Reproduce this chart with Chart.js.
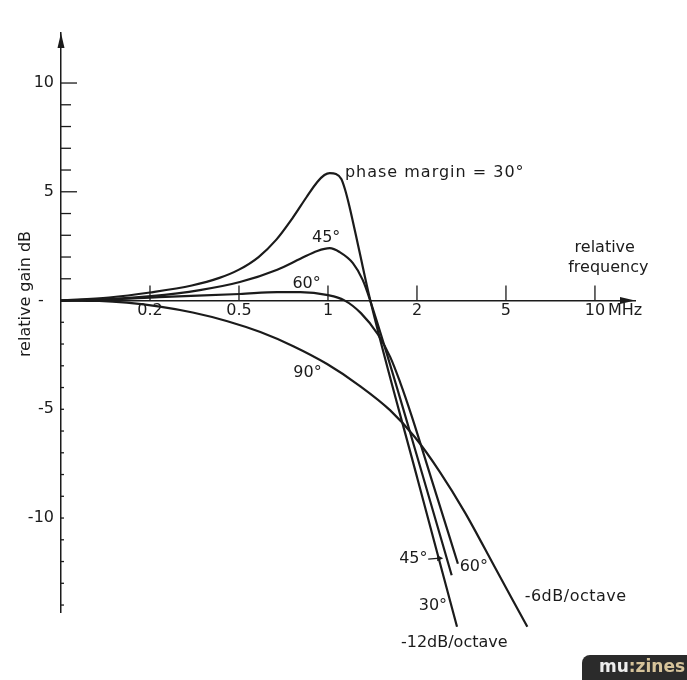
<!DOCTYPE html>
<html>
<head>
<meta charset="utf-8">
<script src="https://cdn.jsdelivr.net/npm/chart.js@4.4.1/dist/chart.umd.min.js"></script>
<style>
  body { margin: 0; background: #fff; }
  canvas { display: block; }
</style>
</head>
<body>
<canvas id="gainChart" width="687" height="680"></canvas>
<script>
// x values are positions on the frequency axis: the 0.1-0.2-0.5-1-2-5-10 steps are drawn equally spaced
const tickSteps = [1, 2, 3, 4, 5, 6]
const tickLabels = ["0.2", "0.5", "1", "2", "5", "10"]

const yTickValues = [-14, -13, -12, -11, -10, -9, -8, -7, -6, -5, -4, -3, -2, -1, 1, 2, 3, 4, 5, 6, 7, 8, 9, 10]
const yLabelValues = [10, 5, 0, -5, -10]
const yLabelTexts = ["10", "5", "-  ", "-5", "-10"]

// phase margin 30 deg
const pm30X = [0, 0.54, 1.0, 1.47, 1.78, 2.0, 2.22, 2.42, 2.6, 2.76, 2.88, 2.96, 3.02, 3.09, 3.15, 3.19, 3.24, 3.35, 3.47, 4.01, 4.45]
const pm30Y = [0, 0.14, 0.37, 0.69, 1.04, 1.42, 2.0, 2.8, 3.78, 4.76, 5.45, 5.77, 5.86, 5.82, 5.59, 5.13, 4.35, 2.32, 0.1, -8.26, -15.0]

// phase margin 45 deg
const pm45X = [0, 0.55, 1.01, 1.56, 2.01, 2.43, 2.69, 2.88, 3.02, 3.13, 3.28, 3.39, 3.47, 4.08, 4.39]
const pm45Y = [0, 0.07, 0.2, 0.48, 0.85, 1.42, 1.92, 2.28, 2.41, 2.23, 1.72, 0.95, 0.05, -8.26, -12.63]

// phase margin 60 deg
const pm60X = [0, 0.55, 1.1, 2.01, 2.43, 2.69, 3.0, 3.18, 3.37, 3.56, 3.7, 3.81, 3.94, 4.17, 4.46]
const pm60Y = [0, 0.05, 0.16, 0.3, 0.39, 0.39, 0.25, 0.02, -0.58, -1.55, -2.6, -3.75, -5.3, -8.3, -12.1]

// phase margin 90 deg (-6dB/octave)
const pm90X = [0, 0.43, 0.74, 1.11, 1.48, 1.87, 2.24, 2.61, 2.99, 3.36, 3.7, 3.98, 4.26, 4.54, 4.88, 5.24]
const pm90Y = [0, -0.02, -0.1, -0.28, -0.55, -0.95, -1.45, -2.1, -2.92, -3.93, -5.05, -6.3, -7.9, -9.75, -12.3, -15.0]

// annotations: text, x (axis step), y (dB), alignment
const noteTexts = ["phase margin = 30°", "45°", "60°", "90°", "45°", "60°", "30°", "-12dB/octave", "-6dB/octave", "relative", "frequency"]
const noteX = [3.19, 2.82, 2.6, 2.61, 3.8, 4.48, 4.02, 3.82, 5.21, 6.11, 6.15]
const noteY = [5.86, 2.87, 0.76, -3.33, -11.89, -12.25, -14.05, -15.72, -13.63, 2.41, 1.49]
const noteAlign = ["left", "left", "left", "left", "left", "left", "left", "left", "left", "center", "center"]
const noteSpacing = ["1px", "0px", "0px", "0px", "0px", "0px", "0px", "0px", "0.5px", "0px", "0px"]

const ink = "#1b1b1b"
const textFont = "16px 'DejaVu Sans'"

function toPoints(xs, ys) {
  return xs.map(function(x, k) { return { x: x, y: ys[k] } })
}

function makeSeries(label, xs, ys) {
  return {
    label: label,
    data: toPoints(xs, ys),
    borderColor: ink,
    borderWidth: 2.2,
    pointRadius: 0,
    cubicInterpolationMode: "monotone",
    clip: false
  }
}

// tick marks, arrow heads, annotations and the badge
const decorations = {
  id: "decorations",
  afterDraw: function(chart) {
    const ctx = chart.ctx
    const xs = chart.scales.x
    const ys = chart.scales.y
    const area = chart.chartArea
    const x0 = area.left
    const y0 = ys.getPixelForValue(0)

    ctx.save()
    ctx.strokeStyle = ink
    ctx.fillStyle = ink
    ctx.lineWidth = 1.3

    // y tick marks point inwards
    yTickValues.forEach(function(v) {
      const py = ys.getPixelForValue(v)
      let len = 3
      if (v > 0) len = v % 5 === 0 ? 16 : 10
      ctx.beginPath()
      ctx.moveTo(x0, py)
      ctx.lineTo(x0 + len, py)
      ctx.stroke()
    })

    // x tick marks point upwards
    tickSteps.forEach(function(v) {
      const px = xs.getPixelForValue(v)
      ctx.beginPath()
      ctx.moveTo(px, y0)
      ctx.lineTo(px, y0 - 15)
      ctx.stroke()
    })

    // arrow heads
    ctx.beginPath()
    ctx.moveTo(x0, area.top)
    ctx.lineTo(x0 - 3.5, area.top + 15)
    ctx.lineTo(x0 + 3.5, area.top + 15)
    ctx.closePath()
    ctx.fill()

    ctx.beginPath()
    ctx.moveTo(area.right, y0)
    ctx.lineTo(area.right - 15, y0 - 3.5)
    ctx.lineTo(area.right - 15, y0 + 3.5)
    ctx.closePath()
    ctx.fill()

    // annotations
    ctx.font = textFont
    ctx.textBaseline = "middle"
    noteTexts.forEach(function(t, k) {
      ctx.textAlign = noteAlign[k]
      ctx.letterSpacing = noteSpacing[k]
      ctx.fillText(t, xs.getPixelForValue(noteX[k]), ys.getPixelForValue(noteY[k]))
    })
    ctx.letterSpacing = "0px"

    // unit after the last tick label
    ctx.textAlign = "left"
    ctx.fillText("MHz", xs.getPixelForValue(6) + 13, y0 + 10)

    // leader arrow from the lower 45° label
    const lx = xs.getPixelForValue(noteX[4]) + 29
    const ly = ys.getPixelForValue(noteY[4])
    ctx.beginPath()
    ctx.moveTo(lx, ly)
    ctx.lineTo(lx + 12, ly - 1)
    ctx.stroke()
    ctx.beginPath()
    ctx.moveTo(lx + 15, ly - 1)
    ctx.lineTo(lx + 9, ly - 4)
    ctx.lineTo(lx + 9, ly + 2)
    ctx.closePath()
    ctx.fill()

    // axis title
    ctx.save()
    ctx.translate(26, 294)
    ctx.rotate(-Math.PI / 2)
    ctx.textAlign = "center"
    ctx.fillText("relative gain dB", 0, 0)
    ctx.restore()

    // badge
    ctx.fillStyle = "#2b2b2b"
    ctx.beginPath()
    ctx.roundRect(582, 655, 110, 30, [8, 0, 0, 0])
    ctx.fill()
    ctx.font = "bold 17px 'DejaVu Sans'"
    ctx.textAlign = "left"
    ctx.fillStyle = "#eeeeee"
    ctx.fillText("mu", 599, 668)
    const w = ctx.measureText("mu").width
    ctx.fillStyle = "#d6c39a"
    ctx.fillText(":zines", 599 + w, 668)

    ctx.restore()
  }
}

new Chart(document.getElementById("gainChart"), {
  type: "line",
  data: {
    datasets: [
      makeSeries("30°", pm30X, pm30Y),
      makeSeries("45°", pm45X, pm45Y),
      makeSeries("60°", pm60X, pm60Y),
      makeSeries("90°", pm90X, pm90Y)
    ]
  },
  options: {
    responsive: false,
    animation: false,
    layout: { padding: { left: 0, top: 33, right: 52, bottom: 68 } },
    plugins: {
      legend: { display: false },
      tooltip: { enabled: false }
    },
    scales: {
      x: {
        type: "linear",
        min: 0,
        max: 6.45,
        position: { y: 0 },
        afterFit: function(s) {
          s.height = 0
          s.paddingLeft = 0
          s.paddingRight = 0
        },
        afterBuildTicks: function(s) {
          s.ticks = tickSteps.map(function(v) { return { value: v } })
        },
        ticks: {
          autoSkip: false,
          maxRotation: 0,
          padding: 1,
          color: ink,
          font: { family: "DejaVu Sans", size: 16 },
          callback: function(v) {
            const k = tickSteps.indexOf(v)
            return k >= 0 ? tickLabels[k] : ""
          }
        },
        grid: { drawOnChartArea: false, drawTicks: false },
        border: { color: ink, width: 1.5 }
      },
      y: {
        type: "linear",
        min: -14.32,
        max: 12.3,
        afterFit: function(s) {
          s.width = 61
          s.paddingTop = 0
          s.paddingBottom = 0
        },
        afterBuildTicks: function(s) {
          s.ticks = yLabelValues.map(function(v) { return { value: v } })
        },
        ticks: {
          autoSkip: false,
          padding: 7,
          color: ink,
          font: { family: "DejaVu Sans", size: 16 },
          callback: function(v) {
            const k = yLabelValues.indexOf(v)
            return k >= 0 ? yLabelTexts[k] : ""
          }
        },
        grid: { drawOnChartArea: false, drawTicks: false },
        border: { color: ink, width: 1.5 }
      }
    }
  },
  plugins: [decorations]
})
</script>
</body>
</html>
